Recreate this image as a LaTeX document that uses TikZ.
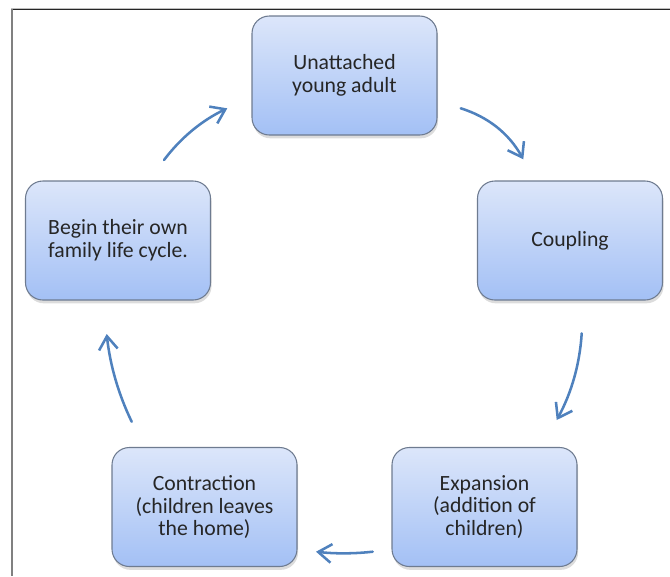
\documentclass[tikz,border=0pt]{standalone}
\usepackage{fontspec}
\setmainfont{Carlito}
\usetikzlibrary{arrows.meta,shadows}
\definecolor{boxtop}{HTML}{DCE6FA}
\definecolor{boxbottom}{HTML}{A3C0F5}
\definecolor{boxline}{HTML}{6E7B90}
\definecolor{cyclearrow}{HTML}{4F81BD}
\definecolor{textgray}{HTML}{262626}
\begin{document}
\begin{tikzpicture}[x=0.75pt,y=-0.75pt,
    stage/.style={draw=boxline, line width=0.8pt, rounded corners=13pt,
      top color=boxtop, bottom color=boxbottom,
      minimum width=138.75pt, minimum height=89.25pt, align=center,
      text=textgray, font=\fontsize{16.3}{17.2}\selectfont,
      drop shadow={shadow xshift=0.8pt, shadow yshift=-2.5pt, opacity=0.28}},
    turnarrow/.style={cyclearrow, line width=1.9pt, line cap=round,
      -{Straight Barb[length=10pt,width=14pt]}}]
    \useasboundingbox (0,0) rectangle (670,576);

    % frame
    \draw[gray!50, line width=0.8pt] (11,8.2) -- (670,8.2);
    \draw[black!85, line width=1.1pt] (11.5,9.6) -- (670,9.6);
    \draw[gray, line width=1.5pt] (11.5,9) -- (11.5,576);

    % stages
    \node[stage] (young) at (344.5,75.5) {Unattached\\young adult};
    \node[stage] (coupling) at (570,240.5) {Coupling};
    \node[stage] (expansion) at (484.5,507) {Expansion\\(addition of\\children)};
    \node[stage] (contraction) at (204.5,507) {Contraction\\(children leaves\\the home)};
    \node[stage] (begin) at (118,240.5) {Begin their own\\family life cycle.};

    % arrow ends
    \coordinate (a1s) at (460.7,108.3);
    \coordinate (a1e) at (523.3,159.3);
    \coordinate (a2s) at (581.7,333.3);
    \coordinate (a2e) at (556.7,420);
    \coordinate (a3s) at (372.7,551.7);
    \coordinate (a3e) at (316,551.7);
    \coordinate (a4s) at (131.7,421.7);
    \coordinate (a4e) at (106.7,334);
    \coordinate (a5s) at (164,160);
    \coordinate (a5e) at (227.3,108.3);

    \draw[turnarrow] (a1s) .. controls (488.4,116.9) and (509.2,133.9) .. (a1e);
    \draw[turnarrow] (a2s) .. controls (579.8,364.1) and (571.4,393) .. (a2e);
    \draw[turnarrow] (a3s) .. controls (353.8,553.8) and (334.9,553.8) .. (a3e);
    \draw[turnarrow] (a4s) .. controls (118.3,394) and (110,364.7) .. (a4e);
    \draw[turnarrow] (a5s) .. controls (180.9,137.6) and (202,120.4) .. (a5e);
\end{tikzpicture}
\end{document}
